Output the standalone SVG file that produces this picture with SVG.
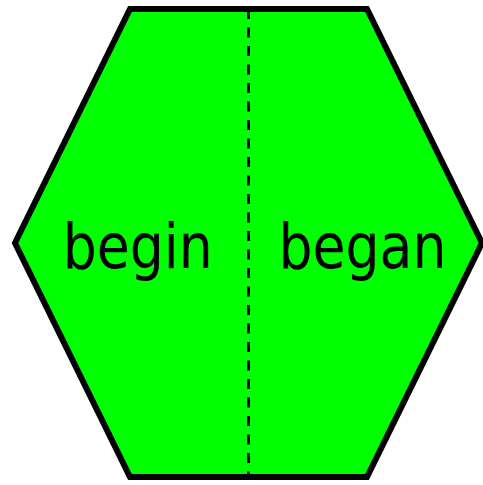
<svg xmlns="http://www.w3.org/2000/svg" width="483" height="485" viewBox="0 0 483 485">
<style>
.hex{fill:#00ff00;stroke:#000;stroke-width:6;stroke-linejoin:miter}
.div{stroke:#000;stroke-width:3;stroke-dasharray:10 8.5;fill:none}
.lbl{font-family:"DejaVu Sans","Verdana",sans-serif;font-size:62px;fill:#000;text-anchor:middle}
</style>
<g id="hexagon">
<polygon class="hex" points="130,9 367,9 482,243 367,477 130,477 15,243"/>
</g>
<g id="connectors">
<line class="div" x1="248.5" y1="9" x2="248.5" y2="477"/>
</g>
<g id="begin">
<text class="lbl" x="137.7" y="268" textLength="150" lengthAdjust="spacingAndGlyphs">begin</text>
</g>
<g id="began">
<text class="lbl" x="362.5" y="268" textLength="168" lengthAdjust="spacingAndGlyphs">began</text>
</g>
</svg>
